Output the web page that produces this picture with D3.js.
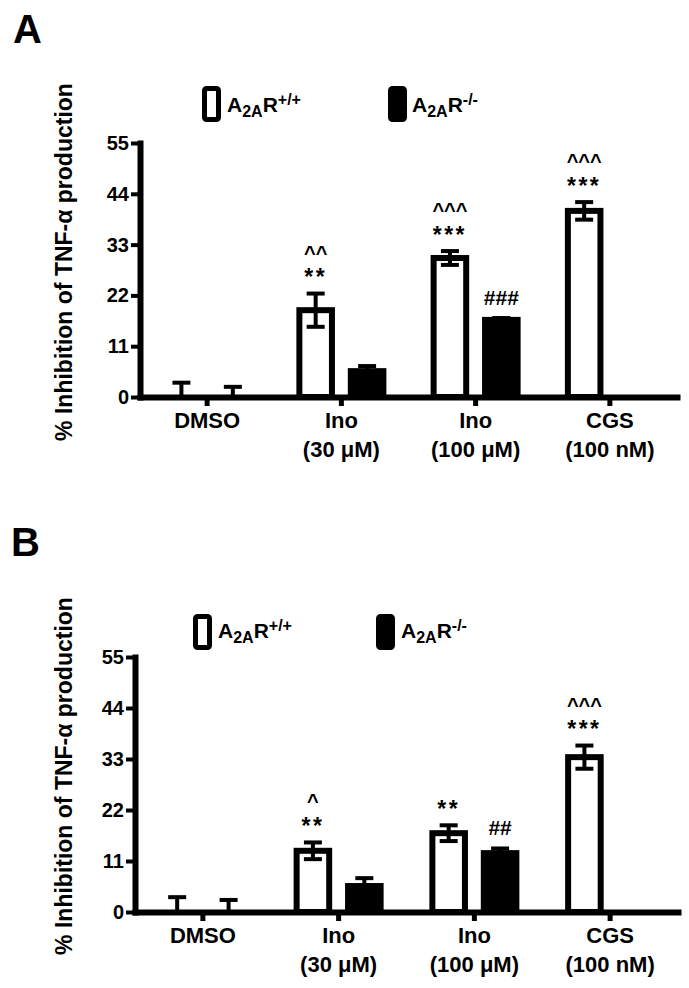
<!DOCTYPE html>
<html><head><meta charset="utf-8">
<script src="https://cdn.jsdelivr.net/npm/d3@7"></script>
<style>
body{margin:0;background:#fff}
svg{display:block}
text{font-family:"Liberation Sans",Arial,Helvetica,sans-serif;fill:#000}
</style>
</head><body>
<svg id="c" width="689" height="988"></svg>
<script>
// ---------- data ----------
const categories = ["DMSO", "Ino", "Ino", "CGS"];
const categorySub = ["", "(30 μM)", "(100 μM)", "(100 nM)"];
const series = ["wild", "knockout"];
const legendSup = ["+/+", "-/-"];
const yTicks = [0, 11, 22, 33, 44, 55];
const yTitle = "% Inhibition of TNF-α production";

// Panel A
const aWildMean  = [0, 18.8, 30.1, 40.3];
const aWildErr   = [3.1, 3.6, 1.5, 1.9];
const aKnockMean = [0, 5.6, 16.7, null];
const aKnockErr  = [2.2, 1.1, 0.4, null];
const aStars  = ["", "**", "***", "***"];
const aCarets = ["", "^^", "^^^", "^^^"];
const aHashes = ["", "", "###", ""];

// Panel B
const bWildMean  = [0, 13.2, 17.0, 33.4];
const bWildErr   = [3.2, 1.8, 1.7, 2.5];
const bKnockMean = [0, 5.6, 12.7, null];
const bKnockErr  = [2.6, 1.7, 1.0, null];
const bStars  = ["", "**", "**", "***"];
const bCarets = ["", "^", "", "^^^"];
const bHashes = ["", "", "##", ""];

// ---------- layout ----------
const FONT = '"Liberation Sans",Arial,Helvetica,sans-serif';
const svg = d3.select("#c");

const panels = [
  {label: "A", lx: 13, ly: 43, x0: 140, x1: 677, y0: 397, y55: 143, titleY: 262,
   legY: 86, legX: [202, 388], legTextX: [227, 412], legBase: 112,
   wm: aWildMean, we: aWildErr, km: aKnockMean, ke: aKnockErr,
   stars: aStars, carets: aCarets, hashes: aHashes},
  {label: "B", lx: 11, ly: 556, x0: 135, x1: 678, y0: 912, y55: 657, titleY: 776,
   legY: 614, legX: [193, 376], legTextX: [218, 401], legBase: 638,
   wm: bWildMean, we: bWildErr, km: bKnockMean, ke: bKnockErr,
   stars: bStars, carets: bCarets, hashes: bHashes}
];

function drawPanel(p) {
  const g = svg.append("g");
  const y = d3.scaleLinear().domain([0, 55]).range([p.y0, p.y55]).clamp(true);
  const x = d3.scaleBand().domain(d3.range(categories.length)).range([p.x0, p.x1]);
  const inner = d3.scaleBand().domain(series).range([-45, 45]).paddingInner(0.25);
  const SW = 6;

  const rows = [];
  categories.forEach((c, i) => {
    rows.push({i, s: "wild", mean: p.wm[i], err: p.we[i], star: p.stars[i], caret: p.carets[i], hash: ""});
    rows.push({i, s: "knockout", mean: p.km[i], err: p.ke[i], star: "", caret: "", hash: p.hashes[i]});
  });
  const valid = rows.filter(d => d.mean !== null);
  const cx = d => x(d.i) + x.bandwidth() / 2 + inner(d.s) + inner.bandwidth() / 2;

  // bars
  g.selectAll("rect.bar").data(valid).join("rect")
    .attr("class", "bar")
    .attr("x", d => cx(d) - inner.bandwidth() / 2 + SW / 2)
    .attr("width", inner.bandwidth() - SW)
    .attr("y", d => y(d.mean))
    .attr("height", d => y(0) - y(d.mean))
    .attr("fill", d => d.s === "wild" ? "#fff" : "#000")
    .attr("stroke", "#000")
    .attr("stroke-width", SW);

  // error bars
  const eb = g.selectAll("g.eb").data(valid).join("g").attr("class", "eb")
    .attr("stroke", "#000").attr("stroke-width", 4);
  eb.append("line")
    .attr("x1", cx).attr("x2", cx)
    .attr("y1", d => y(d.mean - d.err)).attr("y2", d => y(d.mean + d.err));
  eb.append("line")
    .attr("x1", d => cx(d) - 9).attr("x2", d => cx(d) + 9)
    .attr("y1", d => y(d.mean + d.err)).attr("y2", d => y(d.mean + d.err));
  eb.append("line")
    .attr("x1", d => cx(d) - 9).attr("x2", d => cx(d) + 9)
    .attr("y1", d => y(d.mean - d.err)).attr("y2", d => y(d.mean - d.err));

  const capTop = d => y(d.mean + d.err) - 2;
  // annotations
  g.selectAll("text.caret").data(valid.filter(d => d.caret)).join("text")
    .attr("class", "caret").attr("text-anchor", "middle").attr("font-weight", "bold")
    .attr("font-size", 20)
    .attr("x", cx).attr("y", d => capTop(d) - 42.5 + 10.5)
    .text(d => d.caret);
  g.selectAll("text.star").data(valid.filter(d => d.star)).join("text")
    .attr("class", "star").attr("text-anchor", "middle").attr("font-weight", "bold")
    .attr("font-size", 23).attr("letter-spacing", 2.5)
    .attr("x", cx).attr("y", d => capTop(d) - 19 + 12.6)
    .text(d => d.star);
  g.selectAll("text.hash").data(valid.filter(d => d.hash)).join("text")
    .attr("class", "hash")
    .attr("x", cx).attr("y", d => capTop(d) - 19 + 7.5)
    .attr("text-anchor", "middle").attr("font-size", 21).attr("font-weight", "bold")
    .text(d => d.hash);

  // y axis
  g.append("g").attr("transform", `translate(${p.x0},0)`)
    .call(d3.axisLeft(y).tickValues(yTicks).tickSize(9).tickSizeOuter(0).tickPadding(2))
    .attr("font-family", FONT).attr("font-size", 20).attr("font-weight", "bold")
    .call(a => a.select(".domain").attr("stroke-width", 6).attr("stroke-linecap", "square"))
    .call(a => a.selectAll(".tick line").attr("stroke-width", 4))
    .call(a => a.selectAll(".tick text").attr("fill", "#000"));

  // x axis
  const xa = g.append("g").attr("transform", `translate(0,${p.y0})`)
    .call(d3.axisBottom(x).tickSize(9).tickSizeOuter(0).tickFormat(i => categories[i]))
    .attr("font-family", FONT).attr("font-size", 22).attr("font-weight", "bold");
  xa.select(".domain").attr("stroke-width", 6).attr("stroke-linecap", "square");
  xa.selectAll(".tick line").attr("stroke-width", 5);
  xa.selectAll(".tick text").attr("fill", "#000").attr("y", 31).attr("dy", 0)
    .each(function(i) {
      if (categorySub[i]) {
        d3.select(this).append("tspan").attr("x", 0).attr("dy", 29).text(categorySub[i]);
      }
    });

  // y title
  g.append("text")
    .attr("transform", `translate(72,${p.titleY}) rotate(-90)`)
    .attr("text-anchor", "middle").attr("font-size", 23).attr("font-weight", "bold")
    .text(yTitle);

  // panel label
  g.append("text").attr("x", p.lx).attr("y", p.ly)
    .attr("font-size", 40).attr("font-weight", "bold").text(p.label);

  // legend
  series.forEach((s, k) => {
    g.append("rect")
      .attr("x", p.legX[k] + 2.5).attr("y", p.legY + 2.5)
      .attr("width", 14).attr("height", 31).attr("rx", 2)
      .attr("fill", s === "wild" ? "#fff" : "#000")
      .attr("stroke", "#000").attr("stroke-width", 5);
    const t = g.append("text").attr("x", p.legTextX[k]).attr("y", p.legBase)
      .attr("font-size", 21).attr("font-weight", "bold");
    t.append("tspan").text("A");
    t.append("tspan").attr("font-size", 16).attr("dy", 5).text("2A");
    t.append("tspan").attr("dy", -5).text("R");
    t.append("tspan").attr("font-size", 16).attr("dy", -7).text(legendSup[k]);
  });
}

panels.forEach(drawPanel);
</script>
</body></html>
